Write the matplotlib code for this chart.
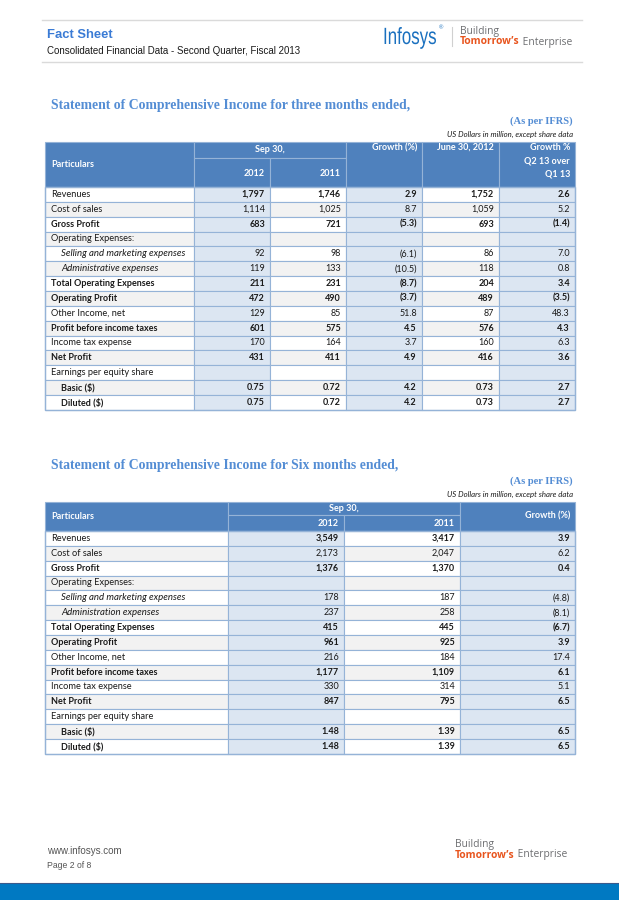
import matplotlib
matplotlib.use("Agg")
import matplotlib.pyplot as plt
from matplotlib.font_manager import FontProperties
from matplotlib.patches import PathPatch, Rectangle
from matplotlib.textpath import TextPath
from matplotlib.transforms import Affine2D

# ---- data -----------------------------------------------------------------
ROW_LABELS_Q = ["Revenues", "Cost of sales", "Gross Profit", "Operating Expenses:",
                "Selling and marketing expenses", "Administrative expenses",
                "Total Operating Expenses", "Operating Profit", "Other Income, net",
                "Profit before income taxes", "Income tax expense", "Net Profit",
                "Earnings per equity share", "Basic ($)", "Diluted ($)"]
ROW_LABELS_H = ["Revenues", "Cost of sales", "Gross Profit", "Operating Expenses:",
                "Selling and marketing expenses", "Administration expenses",
                "Total Operating Expenses", "Operating Profit", "Other Income, net",
                "Profit before income taxes", "Income tax expense", "Net Profit",
                "Earnings per equity share", "Basic ($)", "Diluted ($)"]
# n = normal, b = bold, i = italic (indented), bi = bold indented
LABEL_STYLE = ["n", "n", "b", "n", "i", "i", "b", "b", "n", "b", "n", "b", "n", "bi", "bi"]
VALUE_BOLD = [True, False, True, False, False, False, True, True, False, True, False, True,
              False, True, True]

q_sep_2012 = [1797, 1114, 683, None, 92, 119, 211, 472, 129, 601, 170, 431, None, 0.75, 0.75]
q_sep_2011 = [1746, 1025, 721, None, 98, 133, 231, 490, 85, 575, 164, 411, None, 0.72, 0.72]
q_growth = [2.9, 8.7, -5.3, None, -6.1, -10.5, -8.7, -3.7, 51.8, 4.5, 3.7, 4.9, None, 4.2, 4.2]
q_jun_2012 = [1752, 1059, 693, None, 86, 118, 204, 489, 87, 576, 160, 416, None, 0.73, 0.73]
q_growth_qoq = [2.6, 5.2, -1.4, None, 7.0, 0.8, 3.4, -3.5, 48.3, 4.3, 6.3, 3.6, None, 2.7, 2.7]

h_sep_2012 = [3549, 2173, 1376, None, 178, 237, 415, 961, 216, 1177, 330, 847, None, 1.48, 1.48]
h_sep_2011 = [3417, 2047, 1370, None, 187, 258, 445, 925, 184, 1109, 314, 795, None, 1.39, 1.39]
h_growth = [3.9, 6.2, 0.4, None, -4.8, -8.1, -6.7, 3.9, 17.4, 6.1, 5.1, 6.5, None, 6.5, 6.5]

TITLE_Q = "Statement of Comprehensive Income for three months ended,"
TITLE_H = "Statement of Comprehensive Income for Six months ended,"

# ---- style ----------------------------------------------------------------
BODY_FONT = ["Lato", "DejaVu Sans"]
SERIF_FONT = ["Liberation Serif", "DejaVu Serif"]
ARIAL_FONT = ["Liberation Sans", "DejaVu Sans"]
TAG_FONT = ["Open Sans", "DejaVu Sans"]

HEAD_BLUE = "#4f81bd"
SHADE = "#dce6f2"
BAND = "#f2f2f2"
GRID = "#95b3d7"
TITLE_BLUE = "#548dd4"
LOGO_BLUE = "#1a70bf"
ORANGE = "#e8541d"
TAG_GREY = "#6d6e71"
ROW_H = 14.85
BODY_FS = 6.5


def fmt_amount(v):
    if v is None:
        return ""
    if isinstance(v, float):
        return f"{v:.2f}"
    return f"{v:,}"


def fmt_pct(v):
    if v is None:
        return ""
    return f"({abs(v):.1f})" if v < 0 else f"{v:.1f}"


def draw_body(ax, top, edges, shaded, labels, columns):
    for i, label in enumerate(labels):
        y0 = top + i * ROW_H
        yc = y0 + ROW_H / 2
        for j in range(len(edges) - 1):
            fc = SHADE if shaded[j] else (BAND if i % 2 else "white")
            ax.add_patch(Rectangle((edges[j], y0), edges[j + 1] - edges[j], ROW_H,
                                   facecolor=fc, edgecolor=GRID, linewidth=0.8))
        style = LABEL_STYLE[i]
        x = edges[0] + (16 if "i" in style else 6)
        fs = BODY_FS + (0.4 if style == "i" else (0.15 if style == "n" else 0))
        ax.text(x, yc, label, ha="left", va="center", fontsize=fs, family=BODY_FONT,
                fontweight="bold" if "b" in style else "normal",
                fontstyle="italic" if style == "i" else "normal", color="#1a1a1a")
        for j, (vals, fmt) in enumerate(columns):
            ax.text(edges[j + 2] - 5, yc, fmt(vals[i]), ha="right", va="center",
                    fontsize=BODY_FS, family=BODY_FONT, color="#1a1a1a",
                    fontweight="bold" if VALUE_BOLD[i] else "normal")
    bottom = top + len(labels) * ROW_H
    ax.add_patch(Rectangle((edges[0], top), edges[-1] - edges[0], bottom - top,
                           facecolor="none", edgecolor=GRID, linewidth=1.0))


def head_cell(ax, x0, y0, x1, y1):
    ax.add_patch(Rectangle((x0, y0), x1 - x0, y1 - y0, facecolor=HEAD_BLUE,
                           edgecolor=GRID, linewidth=0.8))


def head_text(ax, x, y, s, ha="right"):
    ax.text(x, y, s, ha=ha, va="center", fontsize=BODY_FS, family=BODY_FONT,
            fontweight="bold", color="white")


def section_title(ax, y, title):
    ax.text(51, y, title, ha="left", va="center", fontsize=9.9, family=SERIF_FONT,
            fontweight="bold", color=TITLE_BLUE)
    ax.text(573, y + 16.5, "(As per IFRS)", ha="right", va="center", fontsize=7.6,
            family=SERIF_FONT, fontweight="bold", color=TITLE_BLUE)
    ax.text(573, y + 29, "US Dollars in million, except share data", ha="right",
            va="center", fontsize=5.6, family=BODY_FONT, fontstyle="italic", color="#1a1a1a")


def tagline(ax, x, y1, y2, fs):
    ax.text(x, y1, "Building", ha="left", va="center", fontsize=fs, family=TAG_FONT,
            color=TAG_GREY)
    t = ax.text(x, y2, "Tomorrow\u2019s", ha="left", va="center", fontsize=fs,
                family=TAG_FONT, fontweight="bold", color=ORANGE)
    ax.annotate(" Enterprise", xycoords=t, xy=(1, 0), ha="left", va="bottom",
                fontsize=fs, family=TAG_FONT, color=TAG_GREY)


def draw_page_header(ax):
    ax.plot([42, 582], [20, 20], color="#dadada", lw=1)
    ax.plot([42, 582], [62, 62], color="#dadada", lw=1)
    ax.text(47, 34.5, "Fact Sheet", ha="left", va="center", fontsize=9.4,
            family=ARIAL_FONT, fontweight="bold", color="#3a7bd5")
    ax.text(47, 51, "Consolidated Financial Data - Second Quarter, Fiscal 2013", ha="left",
            va="center", fontsize=7.0, family=ARIAL_FONT, color="#1a1a1a")
    # condensed logo word
    logo = TextPath((0, 0), "Infosys", size=23.5, prop=FontProperties(family=ARIAL_FONT))
    logo = Affine2D().scale(0.72, -1).translate(383, 44).transform_path(logo)
    ax.add_patch(PathPatch(logo, facecolor=LOGO_BLUE, edgecolor="none"))
    ax.text(438.5, 27.5, "®", ha="left", va="center", fontsize=4.2, family=ARIAL_FONT,
            color=LOGO_BLUE)
    ax.plot([452, 452], [27, 46], color="#d0d0d0", lw=0.8)
    tagline(ax, 460, 31.5, 42, 7.4)


def draw_footer(ax):
    ax.text(47, 851, "www.infosys.com", ha="left", va="center", fontsize=7.0,
            family=ARIAL_FONT, color="#555555")
    ax.text(47, 866, "Page 2 of 8", ha="left", va="center", fontsize=6.2,
            family=ARIAL_FONT, color="#555555")
    tagline(ax, 455, 845, 855, 7.4)
    ax.add_patch(Rectangle((0, 883), 619, 17, facecolor="#0079c2", edgecolor="none"))
    ax.plot([0, 619], [883, 883], color="#3a5a8c", lw=0.8)


def table_quarter(ax):
    section_title(ax, 105, TITLE_Q)
    edges = [45, 194, 270, 346, 422, 499, 575]
    top, mid, bot = 141.5, 158, 187
    head_cell(ax, edges[0], top, edges[1], bot)
    head_cell(ax, edges[1], top, edges[3], mid)
    head_cell(ax, edges[1], mid, edges[2], bot)
    head_cell(ax, edges[2], mid, edges[3], bot)
    for j in range(3, 6):
        head_cell(ax, edges[j], top, edges[j + 1], bot)
    head_text(ax, 51, (top + bot) / 2, "Particulars", ha="left")
    head_text(ax, (edges[1] + edges[3]) / 2, 150, "Sep 30,", ha="center")
    head_text(ax, edges[2] - 5, 173, "2012")
    head_text(ax, edges[3] - 5, 173, "2011")
    head_text(ax, edges[4] - 5, 147.5, "Growth (%)")
    head_text(ax, edges[5] - 5, 147.5, "June 30, 2012")
    for k, line in enumerate(["Growth %", "Q2 13 over", "Q1 13"]):
        head_text(ax, edges[6] - 5, 147.5 + 13.5 * k, line)
    columns = [(q_sep_2012, fmt_amount), (q_sep_2011, fmt_amount), (q_growth, fmt_pct),
               (q_jun_2012, fmt_amount), (q_growth_qoq, fmt_pct)]
    draw_body(ax, bot, edges, [False, True, False, True, False, True], ROW_LABELS_Q, columns)


def table_half(ax):
    section_title(ax, 465, TITLE_H)
    edges = [45, 228, 344, 460, 575]
    top, mid, bot = 501.5, 515, 531
    head_cell(ax, edges[0], top, edges[1], bot)
    head_cell(ax, edges[1], top, edges[3], mid)
    head_cell(ax, edges[1], mid, edges[2], bot)
    head_cell(ax, edges[2], mid, edges[3], bot)
    head_cell(ax, edges[3], top, edges[4], bot)
    head_text(ax, 51, (top + bot) / 2, "Particulars", ha="left")
    head_text(ax, (edges[1] + edges[3]) / 2, 508.5, "Sep 30,", ha="center")
    head_text(ax, edges[2] - 5, 523, "2012")
    head_text(ax, edges[3] - 5, 523, "2011")
    head_text(ax, edges[4] - 5, (top + bot) / 2, "Growth (%)")
    columns = [(h_sep_2012, fmt_amount), (h_sep_2011, fmt_amount), (h_growth, fmt_pct)]
    draw_body(ax, bot, edges, [False, True, False, True], ROW_LABELS_H, columns)


def main():
    fig = plt.figure(figsize=(6.19, 9.0), dpi=100)
    ax = fig.add_axes([0, 0, 1, 1])
    ax.set_xlim(0, 619)
    ax.set_ylim(900, 0)
    ax.axis("off")
    draw_page_header(ax)
    table_quarter(ax)
    table_half(ax)
    draw_footer(ax)
    fig.savefig("out.png", dpi=100)
    plt.close(fig)


if __name__ == "__main__":
    main()
